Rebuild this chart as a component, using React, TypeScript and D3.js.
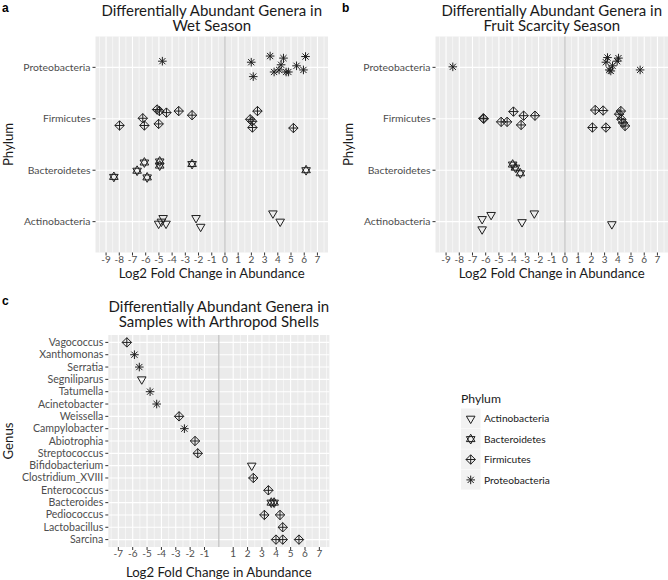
import React from "react";
import * as d3 from "d3";

const FONT = "Lato, 'Open Sans', 'DejaVu Sans', sans-serif";

// ---------- categories & ticks ----------
const phyla = ["Actinobacteria", "Bacteroidetes", "Firmicutes", "Proteobacteria"];
const seasonTicks = [-9, -8, -7, -6, -5, -4, -3, -2, -1, 0, 1, 2, 3, 4, 5, 6, 7];
const shellTicks = [-7, -6, -5, -4, -3, -2, -1, 1, 2, 3, 4, 5, 6, 7];

// ---------- panel a: wet season  [log2FC, vertical jitter] ----------
const wetActinobacteria: [number, number][] = [
  [-4.68, 0.07], [-5.02, -0.04], [-4.46, -0.04], [-4.81, 0.0],
  [-2.19, 0.07], [-1.84, -0.1], [3.63, 0.16], [4.18, 0.0],
];
const wetBacteroidetes: [number, number][] = [
  [-8.41, -0.13], [-6.65, -0.01], [-6.1, 0.15], [-5.89, -0.14],
  [-4.94, 0.17], [-4.94, 0.09], [-2.49, 0.12], [6.14, 0.0],
];
const wetFirmicutes: [number, number][] = [
  [-7.98, -0.13], [-6.22, 0.01], [-6.1, -0.13], [-5.14, 0.18], [-4.96, 0.15],
  [-5.02, -0.1], [-4.43, 0.12], [-3.5, 0.15], [-2.49, 0.07], [2.46, 0.15],
  [1.91, -0.01], [2.06, -0.05], [2.08, -0.17], [5.18, -0.18],
];
const wetProteobacteria: [number, number][] = [
  [-4.74, 0.12], [1.99, 0.1], [2.14, -0.18], [3.42, 0.22], [4.43, 0.18],
  [6.1, 0.21], [3.72, -0.09], [4.1, -0.05], [4.25, 0.05], [4.63, -0.09],
  [4.8, -0.09], [5.42, 0.03], [5.94, -0.05],
];

// ---------- panel b: fruit scarcity season ----------
const fruitActinobacteria: [number, number][] = [
  [-6.27, 0.05], [-5.59, 0.13], [-6.27, -0.15], [-3.25, -0.01], [-2.32, 0.16], [3.55, -0.05],
];
const fruitBacteroidetes: [number, number][] = [
  [-3.96, 0.11], [-3.75, 0.05], [-3.38, -0.06],
];
const fruitFirmicutes: [number, number][] = [
  [-6.18, 0.01], [-6.15, 0.0], [-4.83, -0.06], [-4.38, -0.06], [-3.9, 0.14],
  [-3.13, 0.06], [-3.32, -0.12], [-2.27, 0.06], [2.29, 0.17], [2.89, 0.16],
  [4.23, 0.15], [4.1, 0.09], [4.27, -0.01], [4.4, -0.08], [4.55, -0.14],
  [2.08, -0.17], [3.1, -0.17],
];
const fruitProteobacteria: [number, number][] = [
  [-8.49, 0.01], [3.22, 0.19], [3.1, 0.1], [4.05, 0.18], [3.6, 0.03],
  [3.47, -0.07], [3.35, -0.05], [3.95, 0.12], [5.69, -0.05],
];

// ---------- panel c: samples with arthropod shells ----------
const genera = [
  "Vagococcus", "Xanthomonas", "Serratia", "Segniliparus", "Tatumella",
  "Acinetobacter", "Weissella", "Campylobacter", "Abiotrophia", "Streptococcus",
  "Bifidobacterium", "Clostridium_XVIII", "Enterococcus", "Bacteroides",
  "Pediococcus", "Lactobacillus", "Sarcina",
];
const shellGenus = [
  "Vagococcus", "Xanthomonas", "Serratia", "Segniliparus", "Tatumella",
  "Acinetobacter", "Weissella", "Campylobacter", "Abiotrophia", "Streptococcus",
  "Bifidobacterium", "Clostridium_XVIII", "Enterococcus", "Bacteroides", "Bacteroides",
  "Pediococcus", "Pediococcus", "Lactobacillus", "Sarcina", "Sarcina", "Sarcina",
];
const shellLfc = [
  -6.41, -5.88, -5.54, -5.37, -4.79,
  -4.33, -2.77, -2.4, -1.66, -1.47,
  2.29, 2.4, 3.45, 3.65, 3.85,
  3.17, 4.26, 4.45, 3.98, 4.45, 5.58,
];
const shellPhylum = [
  "Firmicutes", "Proteobacteria", "Proteobacteria", "Actinobacteria", "Proteobacteria",
  "Proteobacteria", "Firmicutes", "Proteobacteria", "Firmicutes", "Firmicutes",
  "Actinobacteria", "Firmicutes", "Firmicutes", "Bacteroidetes", "Bacteroidetes",
  "Firmicutes", "Firmicutes", "Firmicutes", "Firmicutes", "Firmicutes", "Firmicutes",
];

// ---------- glyphs ----------
const INK = "#1e1e1e";
function Glyph({ kind, x, y }: { kind: string; x: number; y: number }) {
  let d = "";
  if (kind === "Actinobacteria") d = "M-4.3,-2.5L4.3,-2.5L0,4.9Z";
  else if (kind === "Bacteroidetes") d = "M0,-4.9L4.3,2.5L-4.3,2.5Z M-4.3,-2.5L4.3,-2.5L0,4.9Z";
  else if (kind === "Firmicutes") d = "M0,-4.7L4.7,0L0,4.7L-4.7,0Z M-4.7,0L4.7,0 M0,-4.7L0,4.7";
  else d = "M-4.3,0L4.3,0 M0,-4.3L0,4.3 M-3.1,-3.1L3.1,3.1 M-3.1,3.1L3.1,-3.1";
  return <path transform={`translate(${x},${y})`} d={d} fill="none" stroke={INK} strokeWidth={1} />;
}

type Pt = { x: number; y: number; kind: string };

function Frame(props: {
  left: number; right: number; top: number; bottom: number;
  xs: d3.ScaleLinear<number, number>; ys: d3.ScalePoint<string>;
  ticks: number[]; cats: string[]; pts: Pt[]; catFont: number;
  title: string[]; titleY: number; xTitleY: number; yTitle: string; yTitleX: number;
  letter: string; letterX: number; letterY: number;
}) {
  const { left, right, top, bottom, xs, ys, ticks, cats, pts } = props;
  const [d0, d1] = xs.domain();
  const minor: number[] = [];
  for (let i = 0; i < ticks.length - 1; i++) minor.push((ticks[i] + ticks[i + 1]) / 2);
  minor.push(ticks[0] - (ticks[1] - ticks[0]) / 2);
  minor.push(ticks[ticks.length - 1] + (ticks[1] - ticks[0]) / 2);
  const minorIn = minor.filter((v) => v > d0 && v < d1);
  const cx = (left + right) / 2;
  const cy = (top + bottom) / 2;
  return (
    <g>
      <text x={props.letterX} y={props.letterY} fontFamily="'Liberation Sans', Arial, sans-serif" fontWeight="bold" fontSize={12} fill="#000">{props.letter}</text>
      <text x={cx} y={props.titleY} textAnchor="middle" fontFamily={FONT} fontSize={15} fill="#1a1a1a">
        {props.title.map((t, i) => (
          <tspan key={i} x={cx} dy={i === 0 ? 0 : 14.5}>{t}</tspan>
        ))}
      </text>
      <rect x={left} y={top} width={right - left} height={bottom - top} fill="#EBEBEB" />
      {minorIn.map((v, i) => (
        <line key={"mi" + i} x1={xs(v)} x2={xs(v)} y1={top} y2={bottom} stroke="#fff" strokeWidth={0.55} />
      ))}
      {ticks.map((v, i) => (
        <line key={"ma" + i} x1={xs(v)} x2={xs(v)} y1={top} y2={bottom} stroke="#fff" strokeWidth={1.1} />
      ))}
      {cats.map((c, i) => (
        <line key={"hy" + i} x1={left} x2={right} y1={ys(c)!} y2={ys(c)!} stroke="#fff" strokeWidth={1.1} />
      ))}
      <line x1={xs(0)} x2={xs(0)} y1={top} y2={bottom} stroke="#B5B5B5" strokeWidth={1} />
      {pts.map((p, i) => <Glyph key={"p" + i} kind={p.kind} x={p.x} y={p.y} />)}
      {ticks.map((v, i) => (
        <g key={"xt" + i}>
          <line x1={xs(v)} x2={xs(v)} y1={bottom} y2={bottom + 3} stroke="#333" strokeWidth={1} />
          <text x={xs(v)} y={bottom + 10.3} textAnchor="middle" fontFamily={FONT} fontSize={10} fill="#4d4d4d">{String(v)}</text>
        </g>
      ))}
      {cats.map((c, i) => (
        <g key={"yt" + i}>
          <line x1={left - 3} x2={left} y1={ys(c)!} y2={ys(c)!} stroke="#333" strokeWidth={1} />
          <text x={left - 5} y={ys(c)! + 3.5} textAnchor="end" fontFamily={FONT} fontSize={props.catFont} fill="#4d4d4d">{c}</text>
        </g>
      ))}
      <text x={cx} y={props.xTitleY} textAnchor="middle" fontFamily={FONT} fontSize={13.2} fill="#1a1a1a">Log2 Fold Change in Abundance</text>
      <text transform={`translate(${props.yTitleX},${cy}) rotate(-90)`} textAnchor="middle" fontFamily={FONT} fontSize={13.2} fill="#1a1a1a">{props.yTitle}</text>
    </g>
  );
}

function seasonPoints(
  groups: [number, number][][],
  xs: d3.ScaleLinear<number, number>,
  ys: d3.ScalePoint<string>
): Pt[] {
  const out: Pt[] = [];
  groups.forEach((g, gi) => {
    const kind = phyla[gi];
    g.forEach(([lfc, j]) => out.push({ kind, x: xs(lfc), y: ys(kind)! - j * ys.step() }));
  });
  return out;
}

export default function App() {
  const top = 36.5, bottom = 252.5;
  // panel a
  const xa = d3.scaleLinear().domain([-9.8, 7.8]).range([95.5, 328]);
  const ya = d3.scalePoint<string>().domain(phyla).range([bottom, top]).padding(0.6);
  const ptsA = seasonPoints([wetActinobacteria, wetBacteroidetes, wetFirmicutes, wetProteobacteria], xa, ya);
  // panel b
  const xb = d3.scaleLinear().domain([-9.8, 7.8]).range([435.5, 668]);
  const yb = d3.scalePoint<string>().domain(phyla).range([bottom, top]).padding(0.6);
  const ptsB = seasonPoints([fruitActinobacteria, fruitBacteroidetes, fruitFirmicutes, fruitProteobacteria], xb, yb);
  // panel c
  const cTop = 335, cBottom = 547;
  const xc = d3.scaleLinear().domain([-7.7, 7.7]).range([108.3, 329.4]);
  const yc = d3.scalePoint<string>().domain(genera).range([cTop, cBottom]).padding(0.6);
  const ptsC: Pt[] = shellLfc.map((v, i) => ({ kind: shellPhylum[i], x: xc(v), y: yc(shellGenus[i])! }));

  const legendTop = 408.5, keyH = 20.4;
  return (
    <svg width={668} height={580} style={{ position: "absolute", left: 0, top: 0, background: "#fff" }}>
      <rect width={668} height={580} fill="#fff" />
      <Frame left={95.5} right={328} top={top} bottom={bottom} xs={xa} ys={ya} ticks={seasonTicks} cats={phyla} pts={ptsA} catFont={10.4}
        title={["Differentially Abundant Genera in", "Wet Season"]} titleY={16} xTitleY={278} yTitle="Phylum" yTitleX={13}
        letter="a" letterX={2} letterY={12} />
      <Frame left={435.5} right={668} top={top} bottom={bottom} xs={xb} ys={yb} ticks={seasonTicks} cats={phyla} pts={ptsB} catFont={10.4}
        title={["Differentially Abundant Genera in", "Fruit Scarcity Season"]} titleY={16} xTitleY={278} yTitle="Phylum" yTitleX={353}
        letter="b" letterX={342} letterY={12} />
      <Frame left={108.3} right={329.4} top={cTop} bottom={cBottom} xs={xc} ys={yc} ticks={shellTicks} cats={genera} pts={ptsC} catFont={10.6}
        title={["Differentially Abundant Genera in", "Samples with Arthropod Shells"]} titleY={312} xTitleY={577} yTitle="Genus" yTitleX={13}
        letter="c" letterX={2} letterY={305} />
      <g>
        <text x={461} y={403} fontFamily={FONT} fontSize={12.2} fill="#1a1a1a">Phylum</text>
        {phyla.map((p, i) => (
          <g key={p}>
            <rect x={461} y={legendTop + i * keyH} width={19.5} height={keyH - 0.5} fill="#F2F2F2" />
            <Glyph kind={p} x={470.7} y={legendTop + i * keyH + keyH / 2} />
            <text x={484} y={legendTop + i * keyH + keyH / 2 + 3.6} fontFamily={FONT} fontSize={10.2} fill="#1a1a1a">{p}</text>
          </g>
        ))}
      </g>
    </svg>
  );
}
